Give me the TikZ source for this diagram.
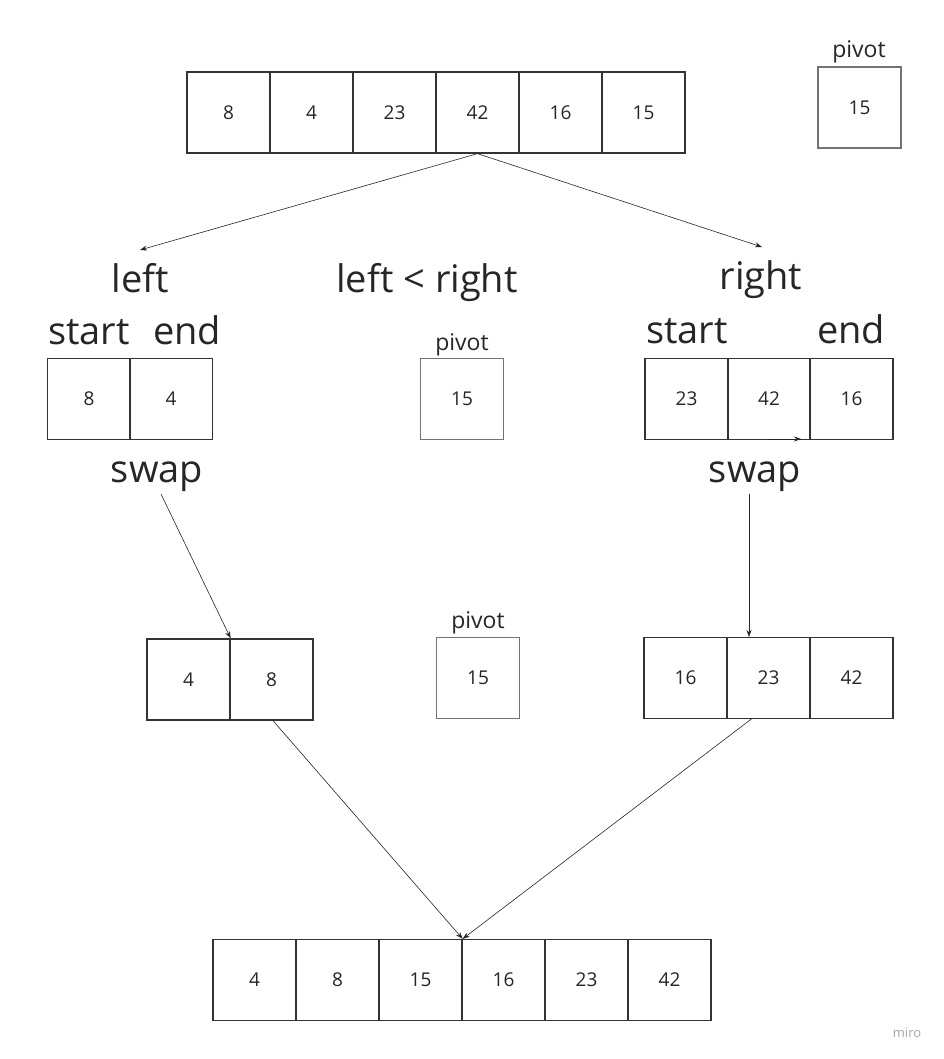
\documentclass[tikz,border=0pt]{standalone}
\usepackage{fontspec}
\setmainfont{Open Sans}
\usetikzlibrary{arrows.meta}
\begin{document}
\begin{tikzpicture}[x=1pt,y=-1pt,
 cell/.style={draw=black!80, line width=1.3pt, minimum width=83pt, minimum height=81pt, inner sep=0pt, font=\fontsize{19}{22}\selectfont, text=black!85},
 pcell/.style={cell, draw=black!55},
 big/.style={font=\fontsize{38}{41}\selectfont, text=black!85, anchor=base, inner sep=0pt},
 small/.style={font=\fontsize{23}{26}\selectfont, text=black!85, anchor=base, inner sep=0pt},
 arr/.style={-{Stealth[length=7pt,width=5pt]}, line width=0.6pt, black!85}]
\fill[white] (0,0) rectangle (943,1059);
\useasboundingbox (0,0) rectangle (943,1059);
% top array
\foreach \v [count=\i] in {8,4,23,42,16,15}
  \node[cell] (t\i) at ({228.5+83*(\i-1)},112.5) {\v};
\node[small] (p0) at (859,58) {pivot};
\node[pcell] (pv0) at (859.5,107.5) {15};
% split arrows
\coordinate (la) at (140,250);
\coordinate (ra) at (762,247);
\draw[arr] (t4.south) -- (la);
\draw[arr] (t4.south) -- (ra);
% labels
\node[big] (lt) at (140,292) {left};
\node[big] (lr) at (427,292) {left < right};
\node[big] (rt) at (761,289) {right};
\node[big] (ls) at (89,344) {start};
\node[big] (le) at (187,344) {end};
\node[big] (rs) at (687,343) {start};
\node[big] (re) at (851,343) {end};
% left pair
\node[cell] (l1) at (89,399) {8};
\node[cell] (l2) at (171,399) {4};
% middle pivot
\node[small] (p1) at (462,350) {pivot};
\node[pcell] (pv1) at (462,399) {15};
% right triple
\node[cell] (r1) at (686.5,399) {23};
\node[cell] (r2) at (769,399) {42};
\node[cell] (r3) at (851.5,399) {16};
\coordinate (sa) at (768,439);
\coordinate (sb) at (801,439);
\draw[arr] (sa) -- (sb);
% swap labels
\node[big] (sw1) at (157,482) {swap};
\node[big] (sw2) at (755,482) {swap};
\coordinate (s1) at (161,494);
\coordinate (s2) at (749,494);
\coordinate (s2e) at (749,637);
% second row
\node[cell] (m1) at (188.5,679.5) {4};
\node[cell] (m2) at (271.5,679.5) {8};
\node[small] (p2) at (478,628) {pivot};
\node[pcell] (pv2) at (478,678) {15};
\node[cell] (n1) at (685.5,678) {16};
\node[cell] (n2) at (768.5,678) {23};
\node[cell] (n3) at (851.5,678) {42};
\draw[arr] (s1) -- (m1.north east);
\draw[arr] (s2) -- (s2e);
% bottom array
\foreach \v [count=\i] in {4,8,15,16,23,42}
  \node[cell] (b\i) at ({254.5+83*(\i-1)},980) {\v};
\coordinate (q1) at (272,719.5);
\coordinate (q2) at (752,718.5);
\draw[arr] (q1) -- (b3.north east);
\draw[arr] (q2) -- (b3.north east);
\node[font=\fontsize{13}{15}\selectfont, text=black!35, anchor=base] (mi) at (907,1037) {miro};
\end{tikzpicture}
\end{document}
